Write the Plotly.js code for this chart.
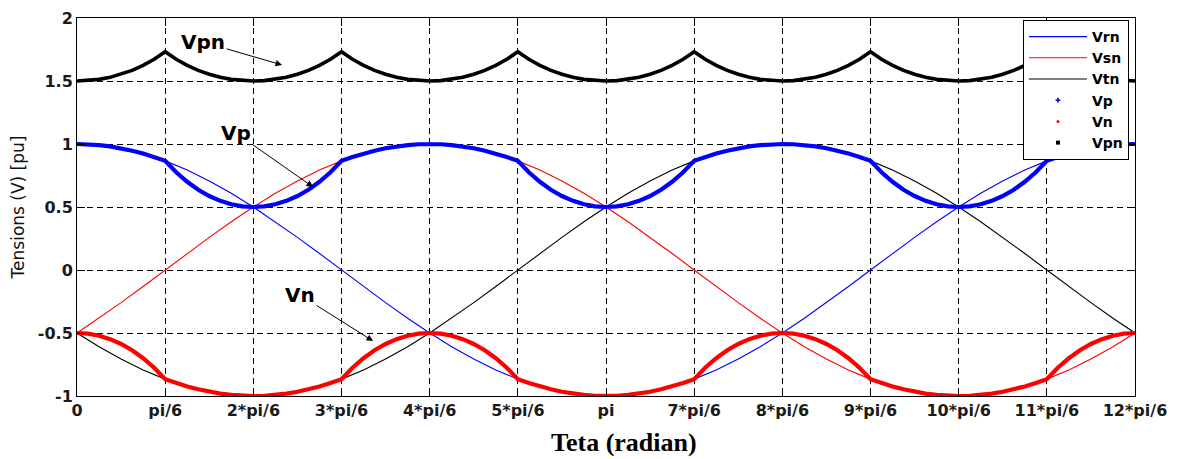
<!DOCTYPE html>
<html>
<head>
<meta charset="utf-8">
<script src="https://cdn.plot.ly/plotly-3.0.1.min.js"></script>
<style>html,body{margin:0;padding:0;background:#fff;}#chart{width:1182px;height:459px;}</style>
</head>
<body>
<div id="chart"></div>
<script>
// angle samples (degrees, 0 .. 2*pi) for the phase voltages
const theta = [0,7.5,15,22.5,30,37.5,45,52.5,60,67.5,75,82.5,90,97.5,105,112.5,120,127.5,135,142.5,150,157.5,165,172.5,180,187.5,195,202.5,210,217.5,225,232.5,240,247.5,255,262.5,270,277.5,285,292.5,300,307.5,315,322.5,330,337.5,345,352.5,360];

// phase voltages (pu)
const Vrn = [1,0.991,0.966,0.924,0.866,0.793,0.707,0.609,0.5,0.383,0.259,0.131,0,-0.131,-0.259,-0.383,-0.5,-0.609,-0.707,-0.793,-0.866,-0.924,-0.966,-0.991,-1,-0.991,-0.966,-0.924,-0.866,-0.793,-0.707,-0.609,-0.5,-0.383,-0.259,-0.131,0,0.131,0.259,0.383,0.5,0.609,0.707,0.793,0.866,0.924,0.966,0.991,1];
const Vsn = [-0.5,-0.383,-0.259,-0.131,0,0.131,0.259,0.383,0.5,0.609,0.707,0.793,0.866,0.924,0.966,0.991,1,0.991,0.966,0.924,0.866,0.793,0.707,0.609,0.5,0.383,0.259,0.131,0,-0.131,-0.259,-0.383,-0.5,-0.609,-0.707,-0.793,-0.866,-0.924,-0.966,-0.991,-1,-0.991,-0.966,-0.924,-0.866,-0.793,-0.707,-0.609,-0.5];
const Vtn = [-0.5,-0.609,-0.707,-0.793,-0.866,-0.924,-0.966,-0.991,-1,-0.991,-0.966,-0.924,-0.866,-0.793,-0.707,-0.609,-0.5,-0.383,-0.259,-0.131,0,0.131,0.259,0.383,0.5,0.609,0.707,0.793,0.866,0.924,0.966,0.991,1,0.991,0.966,0.924,0.866,0.793,0.707,0.609,0.5,0.383,0.259,0.131,0,-0.131,-0.259,-0.383,-0.5];

// finer angle samples (degrees) for Vp, Vn, Vpn
const thetaFine = [0,3.75,7.5,11.25,15,18.75,22.5,26.25,30,33.75,37.5,41.25,45,48.75,52.5,56.25,60,63.75,67.5,71.25,75,78.75,82.5,86.25,90,93.75,97.5,101.25,105,108.75,112.5,116.25,120,123.75,127.5,131.25,135,138.75,142.5,146.25,150,153.75,157.5,161.25,165,168.75,172.5,176.25,180,183.75,187.5,191.25,195,198.75,202.5,206.25,210,213.75,217.5,221.25,225,228.75,232.5,236.25,240,243.75,247.5,251.25,255,258.75,262.5,266.25,270,273.75,277.5,281.25,285,288.75,292.5,296.25,300,303.75,307.5,311.25,315,318.75,322.5,326.25,330,333.75,337.5,341.25,345,348.75,352.5,356.25,360];

const Vp = [
  1,0.998,0.991,0.981,0.966,0.947,0.924,0.897,0.866,
  0.776,0.700,0.637,0.587,0.549,0.522,0.505,0.5,
  0.505,0.522,0.549,0.587,0.637,0.700,0.776,0.866,
  0.897,0.924,0.947,0.966,0.981,0.991,0.998,1,
  0.998,0.991,0.981,0.966,0.947,0.924,0.897,0.866,
  0.776,0.700,0.637,0.587,0.549,0.522,0.505,0.5,
  0.505,0.522,0.549,0.587,0.637,0.700,0.776,0.866,
  0.897,0.924,0.947,0.966,0.981,0.991,0.998,1,
  0.998,0.991,0.981,0.966,0.947,0.924,0.897,0.866,
  0.776,0.700,0.637,0.587,0.549,0.522,0.505,0.5,
  0.505,0.522,0.549,0.587,0.637,0.700,0.776,0.866,
  0.897,0.924,0.947,0.966,0.981,0.991,0.998,1];
const Vn = [
  -0.5,-0.505,-0.522,-0.549,-0.587,-0.637,-0.700,-0.776,-0.866,
  -0.897,-0.924,-0.947,-0.966,-0.981,-0.991,-0.998,-1,
  -0.998,-0.991,-0.981,-0.966,-0.947,-0.924,-0.897,-0.866,
  -0.776,-0.700,-0.637,-0.587,-0.549,-0.522,-0.505,-0.5,
  -0.505,-0.522,-0.549,-0.587,-0.637,-0.700,-0.776,-0.866,
  -0.897,-0.924,-0.947,-0.966,-0.981,-0.991,-0.998,-1,
  -0.998,-0.991,-0.981,-0.966,-0.947,-0.924,-0.897,-0.866,
  -0.776,-0.700,-0.637,-0.587,-0.549,-0.522,-0.505,-0.5,
  -0.505,-0.522,-0.549,-0.587,-0.637,-0.700,-0.776,-0.866,
  -0.897,-0.924,-0.947,-0.966,-0.981,-0.991,-0.998,-1,
  -0.998,-0.991,-0.981,-0.966,-0.947,-0.924,-0.897,-0.866,
  -0.776,-0.700,-0.637,-0.587,-0.549,-0.522,-0.505,-0.5];
const Vpn = [
  1.5,1.503,1.513,1.529,1.553,1.584,1.624,1.672,1.732,1.672,1.624,1.584,1.553,1.529,1.513,1.503,
  1.5,1.503,1.513,1.529,1.553,1.584,1.624,1.672,1.732,1.672,1.624,1.584,1.553,1.529,1.513,1.503,
  1.5,1.503,1.513,1.529,1.553,1.584,1.624,1.672,1.732,1.672,1.624,1.584,1.553,1.529,1.513,1.503,
  1.5,1.503,1.513,1.529,1.553,1.584,1.624,1.672,1.732,1.672,1.624,1.584,1.553,1.529,1.513,1.503,
  1.5,1.503,1.513,1.529,1.553,1.584,1.624,1.672,1.732,1.672,1.624,1.584,1.553,1.529,1.513,1.503,
  1.5,1.503,1.513,1.529,1.553,1.584,1.624,1.672,1.732,1.672,1.624,1.584,1.553,1.529,1.513,1.503,
  1.5];

// axis ticks
const xTickVals = [0,30,60,90,120,150,180,210,240,270,300,330,360];
const xTickText = ['0','pi/6','2*pi/6','3*pi/6','4*pi/6','5*pi/6','pi','7*pi/6','8*pi/6','9*pi/6','10*pi/6','11*pi/6','12*pi/6'];
const yTickVals = [-1,-0.5,0,0.5,1,1.5,2];
const yTickText = ['-1','-0.5','0','0.5','1','1.5','2'];

const thin = 1.1, thick = 4.2;
const traces = [
  {x: theta, y: Vrn, name: 'Vrn', mode: 'lines', line: {color: '#0000ff', width: thin}},
  {x: theta, y: Vsn, name: 'Vsn', mode: 'lines', line: {color: '#ff0000', width: thin}},
  {x: theta, y: Vtn, name: 'Vtn', mode: 'lines', line: {color: '#000000', width: thin}},
  {x: thetaFine, y: Vp, name: 'Vp', mode: 'lines', line: {color: '#0000ff', width: thick}, showlegend: false},
  {x: thetaFine, y: Vn, name: 'Vn', mode: 'lines', line: {color: '#ff0000', width: thick}, showlegend: false},
  {x: thetaFine, y: Vpn, name: 'Vpn', mode: 'lines', line: {color: '#000000', width: 3.6}, showlegend: false},
  // legend-only entries (dots as in the original legend)
  {x: [null], y: [null], name: 'Vp', mode: 'markers', marker: {color: '#0000ff', size: 4, symbol: 'cross'}},
  {x: [null], y: [null], name: 'Vn', mode: 'markers', marker: {color: '#ff0000', size: 3}},
  {x: [null], y: [null], name: 'Vpn', mode: 'markers', marker: {color: '#000000', size: 4, symbol: 'square'}}
];

const tickFont = {family: 'DejaVu Sans, Arial, sans-serif', size: 16, color: '#1a1a1a', weight: 'bold'};
const annFont = {family: 'DejaVu Sans, Arial, sans-serif', size: 20, color: '#000', weight: 'bold'};

const axisCommon = {
  showline: true, linecolor: '#000', linewidth: 1, mirror: 'ticks',
  ticks: 'inside', ticklen: 8, tickcolor: '#000', tickwidth: 1,
  showgrid: true, gridcolor: '#000', gridwidth: 1, griddash: '6px,4px',
  zeroline: false, tickfont: tickFont
};

const layout = {
  width: 1182, height: 459,
  margin: {l: 77, r: 47, t: 18, b: 63},
  paper_bgcolor: '#fff', plot_bgcolor: '#fff',
  showlegend: true,
  xaxis: Object.assign({}, axisCommon, {
    range: [0, 360], tickmode: 'array', tickvals: xTickVals, ticktext: xTickText
  }),
  yaxis: Object.assign({}, axisCommon, {
    range: [-1, 2], tickmode: 'array', tickvals: yTickVals, ticktext: yTickText,
    title: {text: 'Tensions (V) [pu]', font: {family: 'DejaVu Sans, Arial, sans-serif', size: 17, color: '#111'}, standoff: 8}
  }),
  legend: {
    x: 0.9943, y: 0.9947, xanchor: 'right', yanchor: 'top',
    bgcolor: '#fff', bordercolor: '#000', borderwidth: 1,
    font: {family: 'DejaVu Sans, Arial, sans-serif', size: 14, color: '#000', weight: 'bold'},
    itemwidth: 58, tracegroupgap: 0
  },
  annotations: [
    {xref: 'paper', yref: 'paper', x: 0.517, y: -0.122, yanchor: 'middle', xanchor: 'center', showarrow: false,
     text: 'Teta (radian)', font: {family: 'Liberation Serif, Times New Roman, serif', size: 26, color: '#000', weight: 'bold'}},
    {xref: 'paper', yref: 'paper', x: 0.1938, y: 0.8757, ax: -79, ay: -23, axref: 'pixel', ayref: 'pixel',
     text: 'Vpn', showarrow: true, arrowhead: 2, arrowsize: 1.3, arrowwidth: 1, arrowcolor: '#000', font: annFont},
    {xref: 'paper', yref: 'paper', x: 0.2231, y: 0.5529, ax: -77, ay: -54, axref: 'pixel', ayref: 'pixel',
     text: 'Vp', showarrow: true, arrowhead: 2, arrowsize: 1.3, arrowwidth: 1, arrowcolor: '#000', font: annFont},
    {xref: 'paper', yref: 'paper', x: 0.2798, y: 0.1455, ax: -73, ay: -46, axref: 'pixel', ayref: 'pixel',
     text: 'Vn', showarrow: true, arrowhead: 2, arrowsize: 1.3, arrowwidth: 1, arrowcolor: '#000', font: annFont}
  ]
};

Plotly.newPlot('chart', traces, layout, {staticPlot: true, displayModeBar: false});
</script>
</body>
</html>
